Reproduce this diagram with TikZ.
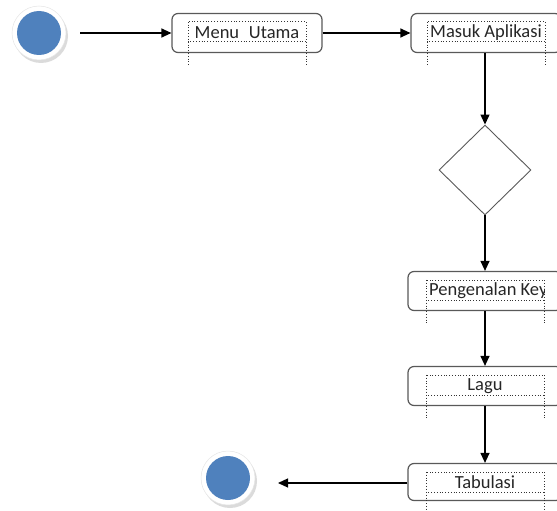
\documentclass[tikz,border=0pt]{standalone}
\usepackage{fontspec}
\setmainfont{Carlito}
\usetikzlibrary{arrows.meta,shapes.geometric}
\definecolor{startblue}{HTML}{4F81BD}
\begin{document}
\begin{tikzpicture}[x=1pt,y=-1pt,
  actbox/.style={draw=black!65, line width=1.2pt, rounded corners=6pt, fill=white,
    minimum width=150pt, minimum height=39pt, inner sep=0pt,
    font=\fontsize{18.5}{20}\selectfont, text=black!85},
  flow/.style={draw=black, line width=1.2pt, -{Triangle[length=10pt,width=9pt]}},
  dotbox/.style={draw=black!80, dotted, line width=0.8pt},
  ringshadow/.style={fill=black!14},
  ring/.style={circle, fill=white, draw=black!10, line width=0.5pt, minimum size=54pt, inner sep=0pt},
  dot/.style={circle, fill=startblue, minimum size=44pt, inner sep=0pt},
  decision/.style={diamond, draw=black!65, line width=0.9pt, fill=white, minimum width=92pt, minimum height=90pt, inner sep=0pt, aspect=1}
]
\useasboundingbox (0,0) rectangle (557,511);
\clip (0,0) rectangle (557,511);

% start
\fill[ringshadow] (41,36) circle (27pt);
\node[ring] (startring) at (39,33) {};
\node[dot] (start) at (39,33) {};

% end
\fill[ringshadow] (230,481) circle (27pt);
\node[ring] (endring) at (228,478) {};
\node[dot] (end) at (228,478) {};

% activities
\node[actbox] (menu) at (247,33) {Menu\hspace{0.3em} Utama};
\node[actbox] (masuk) at (486,33) {Masuk Aplikasi};
\node[decision] (dec) at (485,170) {};
\node[actbox, minimum width=154pt] (peng) at (485,291) {};
\node[actbox, minimum width=154pt] (lagu) at (485,386) {Lagu};
\node[actbox, minimum width=154pt, minimum height=37pt] (tab) at (485,482) {Tabulasi};

% clipped text of Pengenalan Key
\begin{scope}
  \clip ([xshift=-59pt,yshift=-5pt]peng.north) rectangle ([xshift=59pt,yshift=-35pt]peng.north);
  \node[font=\fontsize{18.5}{20}\selectfont, text=black!85, anchor=west, inner sep=0pt] (pengtext) at ([xshift=-56pt]peng.center) {Pengenalan Key};
\end{scope}

% dotted text frames
\foreach \b in {menu,masuk,peng,lagu,tab}{
  \draw[dotbox] ([xshift=-59pt,yshift=-9pt]\b.north) rectangle ([xshift=59pt,yshift=-29pt]\b.north);
  \draw[dotbox] ([xshift=-59pt,yshift=-29pt]\b.north) -- ([xshift=-59pt,yshift=-52pt]\b.north);
  \draw[dotbox] ([xshift=59pt,yshift=-29pt]\b.north) -- ([xshift=59pt,yshift=-52pt]\b.north);
}

% connectors
\coordinate (starttail) at (80,33);
\coordinate (endtip) at (278,483);
\draw[flow] (starttail) -- (menu.west);
\draw[flow] (menu.east) -- (masuk.west);
\draw[flow] (masuk.south -| dec.north) -- (dec.north);
\draw[flow] (dec.south) -- (peng.north -| dec.south);
\draw[flow] (peng.south) -- (lagu.north);
\draw[flow] (lagu.south) -- (tab.north);
\draw[flow] (tab.west |- endtip) -- (endtip);
\end{tikzpicture}
\end{document}
